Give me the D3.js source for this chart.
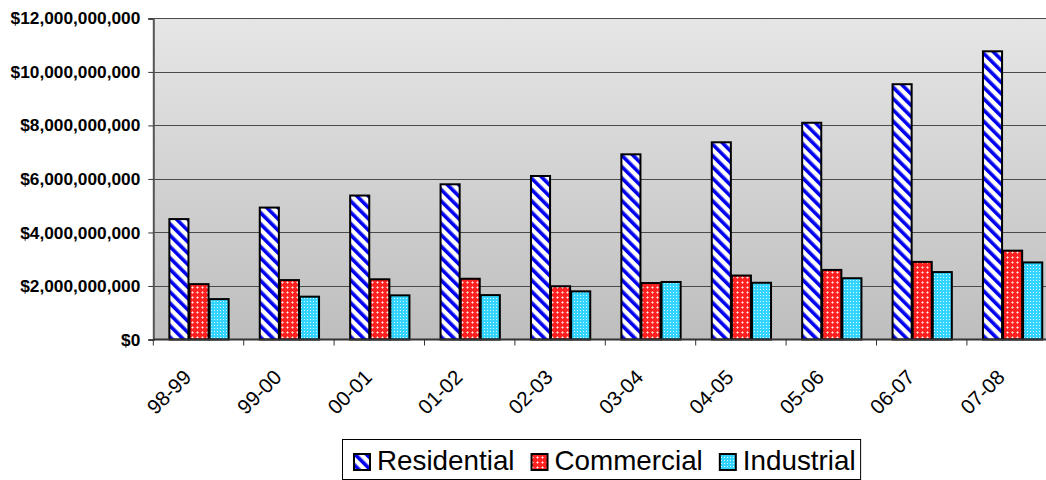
<!DOCTYPE html>
<html><head><meta charset="utf-8">
<script src="https://cdn.jsdelivr.net/npm/d3@7/dist/d3.min.js"></script>
<style>body{margin:0;background:#fff;}svg{display:block;font-family:Arial,"Liberation Sans",sans-serif;}</style>
</head><body><svg id="c" width="1046" height="480"></svg>
<script>
const categories = ["98-99","99-00","00-01","01-02","02-03","03-04","04-05","05-06","06-07","07-08"];
const seriesNames = ["Residential","Commercial","Industrial"];
const residential = [4.50e9,4.93e9,5.38e9,5.80e9,6.11e9,6.92e9,7.37e9,8.10e9,9.54e9,10.77e9];
const commercial  = [2.07e9,2.22e9,2.25e9,2.27e9,1.99e9,2.11e9,2.39e9,2.60e9,2.90e9,3.32e9];
const industrial  = [1.51e9,1.60e9,1.65e9,1.66e9,1.80e9,2.15e9,2.12e9,2.29e9,2.52e9,2.88e9];
const yTicks = [0,2e9,4e9,6e9,8e9,10e9,12e9];

const seriesValues = [residential, commercial, industrial];
const svg = d3.select("#c");
const L = 153.3, T = 18.4, B = 339.5, R = L + 904;

const defs = svg.append("defs");
const g1 = defs.append("linearGradient").attr("id","bg").attr("x1",0).attr("y1",0).attr("x2",0).attr("y2",1);
g1.append("stop").attr("offset","0%").attr("stop-color","#e6e6e6");
g1.append("stop").attr("offset","100%").attr("stop-color","#bebebe");

const pR = defs.append("pattern").attr("id","pRes").attr("patternUnits","userSpaceOnUse")
  .attr("width",8).attr("height",8).attr("patternTransform","rotate(-45)");
pR.append("rect").attr("width",8).attr("height",8).attr("fill","#fff");
pR.append("rect").attr("x",0).attr("width",3.6).attr("height",8).attr("fill","#0000ee");

// commercial: red with light "+" flecks
const pC = defs.append("pattern").attr("id","pCom").attr("patternUnits","userSpaceOnUse").attr("width",5).attr("height",5);
pC.append("rect").attr("width",5).attr("height",5).attr("fill","#ff2020");
[[2,1],[1,2],[3,2],[2,3]].forEach(([a,b])=>pC.append("rect").attr("x",a).attr("y",b).attr("width",1).attr("height",1).attr("fill","#ff9a9a"));
pC.append("rect").attr("x",2).attr("y",2).attr("width",1).attr("height",1).attr("fill","#ffe6e6");

// industrial: cyan with white dot grid
const pI = defs.append("pattern").attr("id","pInd").attr("patternUnits","userSpaceOnUse").attr("width",3).attr("height",3);
pI.append("rect").attr("width",3).attr("height",3).attr("fill","#33d4ff");
pI.append("rect").attr("x",1).attr("y",1).attr("width",1).attr("height",1).attr("fill","#d8f8ff");

const fills = ["url(#pRes)","url(#pCom)","url(#pInd)"];

const x0 = d3.scaleBand().domain(categories).range([L, R]).padding(0);
const x1 = d3.scaleBand().domain(seriesNames).range([x0.bandwidth()/6, x0.bandwidth()*5/6]).padding(0);
const y = d3.scaleLinear().domain([0, 12e9]).range([B, T]);

// plot background
svg.append("rect").attr("x",L).attr("y",T).attr("width",R-L).attr("height",B-T).attr("fill","url(#bg)");

// gridlines
svg.append("g").selectAll("line").data(yTicks.slice(1)).join("line")
  .attr("x1",L).attr("x2",R).attr("y1",d=>Math.round(y(d))+0.5).attr("y2",d=>Math.round(y(d))+0.5)
  .attr("stroke","#4a4a4a").attr("stroke-width",1);

// bars
const data = [];
categories.forEach((c,i)=>seriesNames.forEach((s,j)=>data.push({c,s,j,v:seriesValues[j][i]})));
svg.append("g").selectAll("rect").data(data).join("rect")
  .attr("x",d=>x0(d.c)+x1(d.s)+1)
  .attr("y",d=>y(d.v))
  .attr("width",x1.bandwidth()-1)
  .attr("height",d=>B-y(d.v))
  .attr("fill",d=>fills[d.j])
  .attr("stroke","#000").attr("stroke-width",2);

// y axis
const yAxis = d3.axisLeft(y).tickValues(yTicks).tickSize(5).tickPadding(8)
  .tickFormat(d=>"$"+d3.format(",")(d));
const ya = svg.append("g").attr("transform",`translate(${L},0)`).call(yAxis);
ya.select(".domain").attr("stroke","#555").attr("stroke-width",2);
ya.selectAll(".tick line").attr("stroke","#333");
ya.selectAll("text").attr("font-size","17.3px").attr("font-weight","bold").attr("fill","#000")
  .attr("font-family","Arial, 'Liberation Sans', sans-serif");

// x axis
const xa = svg.append("g").attr("transform",`translate(0,${B})`);
xa.append("line").attr("x1",L).attr("x2",R).attr("stroke","#333").attr("stroke-width",2);
const bounds = categories.map(c=>x0(c));
xa.selectAll("line.tk").data(bounds).join("line").attr("class","tk")
  .attr("x1",d=>d).attr("x2",d=>d).attr("y1",0).attr("y2",6).attr("stroke","#333");
xa.selectAll("text").data(categories).join("text")
  .attr("transform",d=>`translate(${x0(d)+x0.bandwidth()/2-6},${39}) rotate(-45)`)
  .attr("text-anchor","end").attr("font-size","20.5px").attr("fill","#000")
  .attr("font-family","Arial, 'Liberation Sans', sans-serif")
  .text(d=>d);

// legend
const lg = svg.append("g");
const box = lg.append("rect").attr("x",342.5).attr("y",439.5).attr("height",40).attr("fill","#fff")
  .attr("stroke","#000").attr("stroke-width",1);
let cx = 354;
seriesNames.forEach((s,j)=>{
  lg.append("rect").attr("x",cx).attr("y",454).attr("width",16).attr("height",16)
    .attr("fill",fills[j]).attr("stroke","#000").attr("stroke-width",2);
  const t = lg.append("text").attr("x",cx+23).attr("y",470).attr("font-size","27.8px")
    .attr("font-family","Arial, 'Liberation Sans', sans-serif").attr("fill","#000").text(s);
  cx += 23 + t.node().getComputedTextLength() + 17;
});
box.attr("width", cx - 342.5 - 12);
</script></body></html>
